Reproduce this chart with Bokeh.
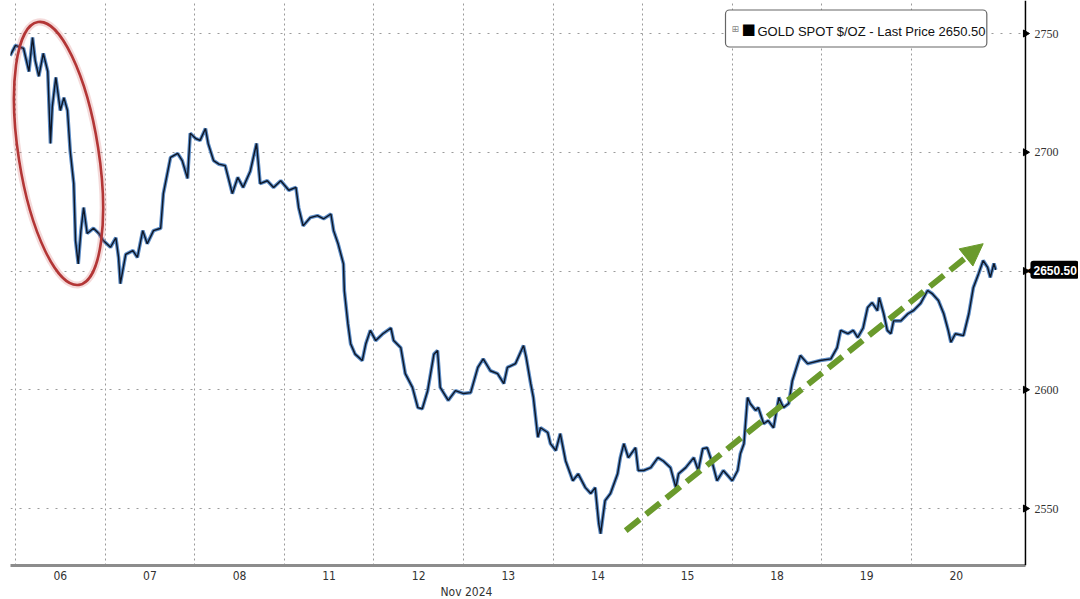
import math
from bokeh.plotting import figure
from bokeh.models import (FixedTicker, Label, Arrow, NormalHead, ColumnDataSource, Range1d,
                          Span, BoxAnnotation, Title)
from bokeh.embed import file_html
from bokeh.resources import INLINE

# ---- data ----
day_labels = ["06", "07", "08", "11", "12", "13", "14", "15", "18", "19", "20"]
day_centers = [i + 0.5 for i in range(len(day_labels))]
day_bounds = list(range(len(day_labels)))
price_ticks = [2550, 2600, 2650, 2700, 2750]
price_tick_labels = [str(v) for v in price_ticks]
last_price = 2650.50

# trading-day position (0 = start of Nov 06 session) and gold spot price
t = [-0.06, 0.00, 0.09, 0.15, 0.19, 0.22, 0.26, 0.31, 0.36, 0.39, 0.41, 0.45, 0.50, 0.54, 0.58,
     0.61, 0.65, 0.67, 0.70, 0.73, 0.76, 0.80, 0.87, 0.93, 0.98, 1.06, 1.12, 1.15, 1.17, 1.23,
     1.31, 1.36, 1.42, 1.47, 1.54, 1.62, 1.65, 1.73, 1.81, 1.86, 1.92, 1.95, 2.01, 2.06, 2.12,
     2.15, 2.21, 2.27, 2.34, 2.42, 2.48, 2.54, 2.62, 2.69, 2.73, 2.81, 2.88, 2.96, 3.05, 3.13,
     3.16, 3.21, 3.29, 3.37, 3.44, 3.52, 3.55, 3.60, 3.66, 3.67, 3.71, 3.74, 3.79, 3.87, 3.91,
     3.96, 4.02, 4.10, 4.19, 4.22, 4.30, 4.35, 4.43, 4.49, 4.54, 4.60, 4.67, 4.71, 4.74, 4.83,
     4.91, 5.00, 5.08, 5.16, 5.22, 5.30, 5.38, 5.45, 5.49, 5.58, 5.67, 5.70, 5.75, 5.78, 5.83,
     5.86, 5.94, 5.97, 6.03, 6.08, 6.14, 6.22, 6.28, 6.36, 6.42, 6.47, 6.51, 6.53, 6.58, 6.64,
     6.72, 6.75, 6.79, 6.84, 6.92, 6.95, 7.01, 7.09, 7.17, 7.23, 7.31, 7.37, 7.40, 7.48, 7.57,
     7.62, 7.67, 7.72, 7.78, 7.83, 7.90, 8.00, 8.06, 8.09, 8.13, 8.17, 8.20, 8.26, 8.29, 8.35,
     8.40, 8.46, 8.52, 8.57, 8.63, 8.67, 8.73, 8.76, 8.84, 8.98, 9.10, 9.17, 9.21, 9.29, 9.35,
     9.40, 9.46, 9.51, 9.56, 9.62, 9.64, 9.69, 9.73, 9.77, 9.80, 9.88, 9.96, 10.02, 10.10, 10.18,
     10.23, 10.30, 10.36, 10.41, 10.44, 10.49, 10.58, 10.64, 10.69, 10.75, 10.80, 10.85, 10.88,
     10.92, 10.94]
price = [2740.7, 2745.0, 2743.7, 2734.0, 2748.3, 2738.6, 2732.0, 2741.6, 2734.0, 2703.7, 2719.0,
         2731.5, 2717.6, 2723.0, 2717.6, 2700.7, 2686.8, 2662.8, 2653.0, 2667.0, 2676.7, 2665.8,
         2668.0, 2665.8, 2662.8, 2660.0, 2664.0, 2655.7, 2644.7, 2657.0, 2658.6, 2655.7, 2667.0,
         2661.5, 2667.0, 2668.0, 2682.6, 2697.8, 2699.5, 2696.5, 2689.0, 2708.0, 2705.8, 2705.0,
         2710.0, 2703.7, 2696.5, 2695.0, 2694.4, 2682.6, 2689.4, 2685.2, 2692.0, 2703.7, 2686.8,
         2688.0, 2685.2, 2688.0, 2684.0, 2685.2, 2676.7, 2669.0, 2672.5, 2673.3, 2672.0, 2674.0,
         2667.0, 2661.5, 2653.0, 2641.7, 2627.8, 2619.4, 2615.0, 2612.3, 2619.4, 2625.0, 2620.7,
         2623.6, 2626.0, 2620.7, 2617.7, 2606.8, 2601.0, 2592.5, 2592.0, 2599.6, 2615.0, 2616.5,
         2601.0, 2595.5, 2599.6, 2598.4, 2598.8, 2609.4, 2613.0, 2608.0, 2606.8, 2602.6, 2609.4,
         2611.0, 2618.6, 2613.5, 2602.6, 2596.7, 2580.0, 2584.0, 2582.0, 2577.3, 2574.4, 2581.5,
         2570.0, 2561.7, 2564.6, 2558.8, 2556.3, 2558.8, 2543.6, 2539.4, 2553.3, 2556.3, 2564.6,
         2571.4, 2577.3, 2571.4, 2575.6, 2566.0, 2566.0, 2567.2, 2571.4, 2570.0, 2567.2, 2558.8,
         2564.6, 2567.2, 2571.4, 2566.0, 2575.2, 2575.6, 2568.8, 2561.7, 2566.0, 2561.7, 2566.0,
         2573.1, 2577.3, 2596.7, 2594.2, 2591.3, 2592.5, 2585.7, 2587.0, 2584.0, 2596.7, 2592.5,
         2594.2, 2603.8, 2611.0, 2614.4, 2611.0, 2612.3, 2613.0, 2617.7, 2625.0, 2623.6, 2625.0,
         2622.0, 2626.0, 2634.6, 2636.7, 2633.3, 2638.8, 2632.0, 2625.0, 2623.6, 2629.0, 2629.0,
         2632.0, 2633.3, 2636.3, 2641.8, 2640.5, 2637.6, 2632.0, 2625.0, 2620.0, 2623.6, 2622.8,
         2632.0, 2643.0, 2649.0, 2654.4, 2651.5, 2647.3, 2653.2, 2650.5]

source = ColumnDataSource(data=dict(t=t, price=price))

NARROW = "Liberation Sans Narrow, DejaVu Sans Condensed, sans-serif"
SANS = "Liberation Sans, Arial, sans-serif"

X_START, X_END = -0.056, 11.864      # plotted span (frame reaches right edge)
AXIS_T = 11.272                      # where the price scale is drawn

p = figure(width=1078, height=598,
           x_range=Range1d(X_START, X_END), y_range=Range1d(2526.0, 2763.9),
           y_axis_location=None, toolbar_location=None, output_backend="svg",
           min_border_left=10, min_border_right=0, min_border_top=0, min_border_bottom=33,
           background_fill_color="white", border_fill_color="white", outline_line_color=None)

# grids
p.xgrid.ticker = FixedTicker(ticks=day_bounds)
p.xgrid.grid_line_color = "#9a9a9a"
p.xgrid.grid_line_dash = "2 3"
p.ygrid.ticker = FixedTicker(ticks=price_ticks)
p.ygrid.grid_line_color = "#9a9a9a"
p.ygrid.grid_line_dash = "2 7"
p.ygrid.grid_line_width = 1.2

# x axis
p.xaxis.ticker = FixedTicker(ticks=day_centers)
p.xaxis.major_label_overrides = {c: l for c, l in zip(day_centers, day_labels)}
p.xaxis.bounds = (X_START, AXIS_T)
p.xaxis.major_tick_line_color = None
p.xaxis.major_tick_out = 0
p.xaxis.major_tick_in = 0
p.xaxis.minor_tick_line_color = None
p.xaxis.axis_line_color = "#8c8c8c"
p.xaxis.axis_line_width = 3
p.xaxis.major_label_text_font = NARROW
p.xaxis.major_label_text_font_size = "12px"
p.xaxis.major_label_text_color = "#333333"
p.xaxis.major_label_standoff = 5

p.add_layout(Title(text="Nov 2024", align="left", offset=430, text_font=NARROW,
                   text_font_size="12px", text_font_style="normal", text_color="#333333",
                   standoff=0), "below")

# price line (Bloomberg-like dark/blue)
p.line("t", "price", source=source, line_color="#4a7fc0", line_width=3.6, line_alpha=0.9)
p.line("t", "price", source=source, line_color="#0d1626", line_width=1.4)

# red ellipse annotation
p.ellipse(x=[0.48], y=[2699.5], width=[80], height=[266], width_units="screen",
          height_units="screen", angle=0.155, fill_color=None,
          line_color="#d46a6a", line_width=7, line_alpha=0.25)
p.ellipse(x=[0.48], y=[2699.5], width=[80], height=[266], width_units="screen",
          height_units="screen", angle=0.155, fill_color=None,
          line_color="#b33636", line_width=2.6)

# green dashed arrow
green = "#6a9a2c"
p.add_layout(Arrow(end=NormalHead(size=22, fill_color=green, line_color=green),
                   x_start=6.81, y_start=2540.7, x_end=10.80, y_end=2661.5,
                   line_color=green, line_width=6, line_dash="18 8"))

# price scale on the right
p.add_layout(BoxAnnotation(left=AXIS_T, fill_color="white", fill_alpha=1.0, line_color=None))
p.add_layout(Span(location=AXIS_T, dimension="height", line_color="black", line_width=1.5))
p.scatter(x=[AXIS_T] * len(price_ticks), y=price_ticks, marker="triangle",
          angle=-math.pi / 2, size=7, fill_color="black", line_color="black", level="overlay")
p.text(x=[AXIS_T] * len(price_ticks), y=price_ticks, text=price_tick_labels, x_offset=9,
       text_font=SANS, text_font_size="12px", text_color="#333333",
       text_align="left", text_baseline="middle", level="overlay")

# last price tag
p.add_layout(Label(x=AXIS_T, y=last_price, x_offset=0, text="◀", text_font="DejaVu Sans",
                   text_font_size="12px", text_color="black", text_align="left",
                   text_baseline="middle", level="overlay"))
p.add_layout(Label(x=AXIS_T, y=last_price, x_offset=5, text=f"{last_price:.2f}",
                   text_font=SANS, text_font_size="12px", text_font_style="bold",
                   text_color="white", text_align="left", text_baseline="middle",
                   background_fill_color="black", border_radius=3, padding=(3, 2, 5, 4),
                   level="overlay"))

# legend box
legend_text = "GOLD SPOT $/OZ - Last Price 2650.50"
p.add_layout(Label(x=715, y=537, x_units="screen", y_units="screen", text=legend_text,
                   text_font=SANS, text_font_size="13px", text_color="#111111",
                   text_align="left", text_baseline="middle",
                   background_fill_color="white", border_line_color="#666666",
                   border_line_width=1.2, border_radius=4, padding=(32, 1, 14, 8)))
p.add_layout(Label(x=731, y=537, x_units="screen", y_units="screen", text="■",
                   text_font="DejaVu Sans", text_font_size="15px", text_color="black",
                   text_align="left", text_baseline="middle"))
p.add_layout(Label(x=721, y=537, x_units="screen", y_units="screen", text="⊞",
                   text_font="DejaVu Sans", text_font_size="9px", text_color="#888888",
                   text_align="left", text_baseline="middle"))

open("out.html", "w").write(file_html(p, INLINE))
